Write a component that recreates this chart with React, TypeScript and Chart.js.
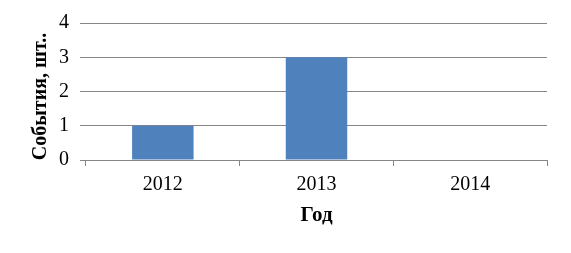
import React, { useEffect, useRef } from "react";
import { Chart, registerables } from "chart.js";

Chart.register(...registerables);

const categories = ["2012", "2013", "2014"];
const values = [1, 3, 0];
const yTitle = "События, шт..  ";
const xTitle = "Год";

export default function App() {
  const ref = useRef<HTMLCanvasElement | null>(null);
  useEffect(() => {
    const ctx = ref.current!.getContext("2d")!;
    const gridColor = "#868686";
    const fam = "'Liberation Serif', 'Times New Roman', serif";
    const chart = new Chart(ctx, {
      type: "bar",
      data: {
        labels: categories,
        datasets: [
          {
            data: values,
            backgroundColor: "#4F81BD",
            barPercentage: 0.4,
            categoryPercentage: 1,
          },
        ],
      },
      options: {
        responsive: false,
        animation: false,
        layout: { padding: { top: 23, right: 24, left: 0, bottom: 0 } },
        plugins: { legend: { display: false }, tooltip: { enabled: false } },
        scales: {
          x: {
            grid: {
              offset: true,
              drawOnChartArea: false,
              drawTicks: true,
              tickLength: 6,
              color: gridColor,
            },
            border: { display: true, color: gridColor },
            ticks: {
              color: "#000",
              font: { family: fam, size: 20 },
              padding: 7,
            },
            title: {
              display: true,
              text: xTitle,
              color: "#000",
              font: { family: fam, size: 21, weight: "bold" },
              padding: { top: 0, bottom: 25 },
            },
            afterFit: (s: any) => {
              s.height = 93;
            },
          },
          y: {
            min: 0,
            max: 4,
            ticks: {
              stepSize: 1,
              color: "#000",
              font: { family: fam, size: 20 },
              padding: 11,
            },
            grid: { color: gridColor, tickLength: 6, drawTicks: true },
            border: { display: false },
            title: {
              display: true,
              text: yTitle,
              color: "#000",
              font: { family: fam, size: 20, weight: "bold" },
              padding: { top: 29, bottom: 0 },
            },
            afterFit: (s: any) => {
              s.width = 86;
            },
          },
        },
      },
    });
    return () => chart.destroy();
  }, []);
  return (
    <div style={{ position: "absolute", left: 0, top: 0, width: 571, height: 253, background: "#fff" }}>
      <canvas ref={ref} width={571} height={253} />
    </div>
  );
}
